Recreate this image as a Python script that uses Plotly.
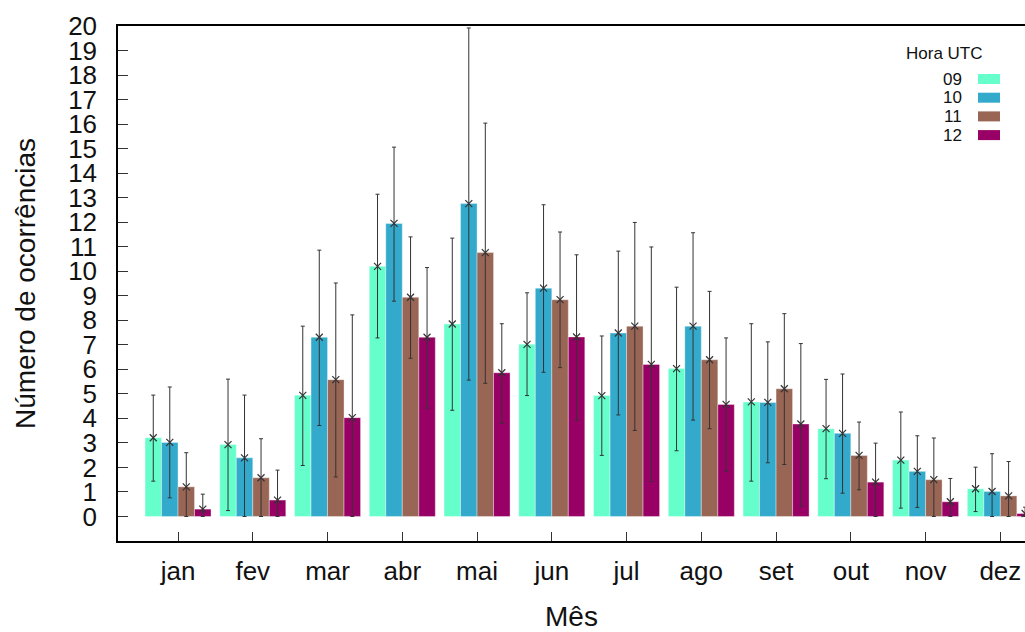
import plotly.graph_objects as go

# Monthly occurrences by UTC hour: mean value and error-bar limits
meses = ["jan", "fev", "mar", "abr", "mai", "jun", "jul", "ago", "set", "out", "nov", "dez"]
horas = ["09", "10", "11", "12"]

media_09 = [3.21, 2.93, 4.94, 10.20, 7.85, 7.02, 4.93, 6.03, 4.67, 3.58, 2.30, 1.13]
media_10 = [3.02, 2.39, 7.31, 11.95, 12.76, 9.31, 7.48, 7.76, 4.65, 3.39, 1.84, 1.02]
media_11 = [1.21, 1.58, 5.58, 8.94, 10.76, 8.84, 7.76, 6.39, 5.21, 2.49, 1.50, 0.84]
media_12 = [0.30, 0.67, 4.03, 7.31, 5.86, 7.32, 6.20, 4.57, 3.77, 1.40, 0.60, 0.12]

sup_09 = [4.95, 5.60, 7.76, 13.14, 11.35, 9.12, 7.36, 9.35, 7.86, 5.59, 4.26, 2.01]
sup_10 = [5.28, 4.95, 10.86, 15.06, 19.92, 12.71, 10.82, 11.57, 7.12, 5.81, 3.29, 2.56]
sup_11 = [2.60, 3.17, 9.52, 11.40, 16.04, 11.60, 11.99, 9.18, 8.27, 3.85, 3.20, 2.24]
sup_12 = [0.91, 1.89, 8.22, 10.15, 7.86, 10.67, 10.99, 7.28, 7.05, 2.99, 1.55, 0.38]

inf_09 = [1.44, 0.24, 2.08, 7.28, 4.33, 4.93, 2.49, 2.68, 1.44, 1.54, 0.34, 0.20]
inf_10 = [0.76, 0.00, 3.71, 8.78, 5.56, 5.88, 4.14, 3.93, 2.19, 0.95, 0.37, 0.00]
inf_11 = [0.00, 0.00, 1.61, 6.45, 5.43, 6.07, 3.51, 3.58, 2.12, 1.09, 0.00, 0.00]
inf_12 = [0.00, 0.00, 0.00, 4.42, 3.80, 3.92, 1.42, 1.85, 0.42, 0.00, 0.00, 0.00]

y_ticks = list(range(0, 21))

medias = [media_09, media_10, media_11, media_12]
superiores = [sup_09, sup_10, sup_11, sup_12]
inferiores = [inf_09, inf_10, inf_11, inf_12]
cores = ["#66ffcc", "#33aacc", "#996655", "#990066"]

W, H = 1025, 632
ML, MR, MT, MB = 118, 0, 26, 91
FONT = "Liberation Sans, Arial, sans-serif"
TXT = "#111111"

largura = 0.2208
x_idx = list(range(len(meses)))

fig = go.Figure()
for k, (hora, med, sup, inf, cor) in enumerate(zip(horas, medias, superiores, inferiores, cores)):
    desloc = -2 * largura + k * largura
    fig.add_trace(go.Bar(
        x=x_idx, y=med, name=hora, width=largura, offset=desloc,
        marker=dict(color=cor, line=dict(width=0.6, color="rgba(255,255,255,0.6)")),
        error_y=dict(type="data", symmetric=False,
                     array=[s - m for s, m in zip(sup, med)],
                     arrayminus=[m - i for m, i in zip(med, inf)],
                     color="#333333", thickness=1, width=2),
        showlegend=False,
    ))
    fig.add_trace(go.Scatter(
        x=[i + desloc + largura / 2 for i in x_idx], y=med, mode="markers",
        marker=dict(symbol="x-thin", size=7, line=dict(width=1.2, color="#333333")),
        showlegend=False, hoverinfo="skip",
    ))

# Legend drawn as a keyed box in the upper right corner
def px_x(p):
    return (p - ML) / (W - ML - MR)

def px_y(p):
    return (H - MB - p) / (H - MT - MB)

anns = [dict(text="Hora UTC", x=px_x(944), y=px_y(53), xref="paper", yref="paper",
             showarrow=False, xanchor="center", yanchor="middle",
             font=dict(family=FONT, size=17, color=TXT))]
shapes = []
for k, (hora, cor) in enumerate(zip(horas, cores)):
    yc = 79 + k * 18.7
    anns.append(dict(text=hora, x=px_x(964), y=px_y(yc), xref="paper", yref="paper",
                     showarrow=False, xanchor="right", yanchor="middle",
                     font=dict(family=FONT, size=17, color=TXT)))
    shapes.append(dict(type="rect", xref="paper", yref="paper",
                       x0=px_x(978), x1=px_x(1000), y0=px_y(yc + 5), y1=px_y(yc - 5),
                       fillcolor=cor, line=dict(width=0)))

fig.update_layout(
    width=W, height=H,
    margin=dict(l=ML, r=MR, t=MT, b=MB),
    paper_bgcolor="white", plot_bgcolor="white",
    barmode="overlay",
    font=dict(family=FONT, size=26, color=TXT),
    annotations=anns, shapes=shapes,
    xaxis=dict(
        range=[-0.803, 11.33], tickmode="array", tickvals=x_idx, ticktext=meses,
        ticks="inside", ticklen=9, tickwidth=1, tickcolor="#333333",
        showline=True, linecolor="black", linewidth=1.5, mirror=True,
        showgrid=False, zeroline=False,
        tickfont=dict(size=26), ticklabelstandoff=6,
        title=dict(text="Mês", font=dict(size=28), standoff=22),
    ),
    yaxis=dict(
        range=[-1, 20], tickmode="array", tickvals=y_ticks,
        ticktext=[str(v) for v in y_ticks],
        ticks="inside", ticklen=10, tickwidth=1, tickcolor="#333333",
        showline=True, linecolor="black", linewidth=1.5,
        showgrid=False, zeroline=False,
        tickfont=dict(size=26), ticklabelstandoff=14,
        title=dict(text="Número de ocorrências", font=dict(size=28), standoff=24),
    ),
)

fig.write_html("out.html")
